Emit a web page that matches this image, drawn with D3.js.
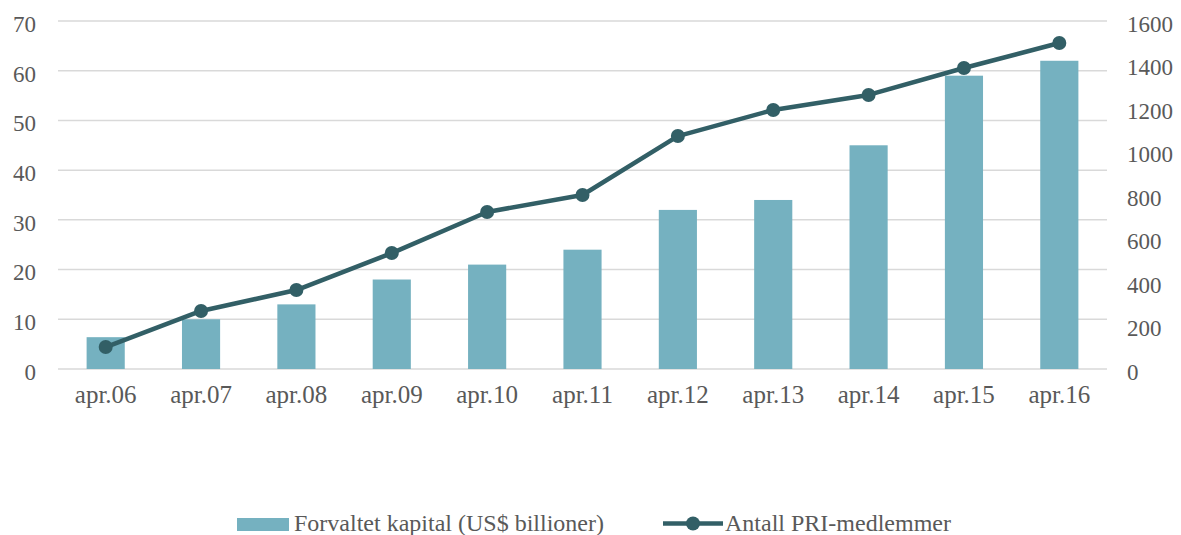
<!DOCTYPE html>
<html><head><meta charset="utf-8">
<script src="https://cdn.jsdelivr.net/npm/d3@7"></script>
<style>
body{margin:0;background:#fff;}
svg text{font-family:"Liberation Serif","DejaVu Serif",serif !important;fill:#595959;font-variant-numeric:oldstyle-nums;}
</style></head>
<body><svg id="c" width="1181" height="535"></svg>
<script>
const categories = ["apr.06","apr.07","apr.08","apr.09","apr.10","apr.11","apr.12","apr.13","apr.14","apr.15","apr.16"];
const kapital = [6.4, 10, 13, 18, 21, 24, 32, 34, 45, 59, 62];
const medlemmer = [101, 267, 363, 533, 722, 800, 1071, 1191, 1260, 1384, 1499];
const leftTicks = [0,10,20,30,40,50,60,70];
const rightTicks = [0,200,400,600,800,1000,1200,1400,1600];
const seriesNames = ["Forvaltet kapital (US$ billioner)", "Antall PRI-medlemmer"];

const FONT = '"Liberation Serif","DejaVu Serif",serif';
const svg = d3.select("#c");
const L = 58, R = 1107, T = 21, B = 369;
const x = d3.scaleBand().domain(categories).range([L, R]).paddingInner(0).paddingOuter(0);
const yL = d3.scaleLinear().domain([0,70]).range([B,T]);
const yR = d3.scaleLinear().domain([0,1600]).range([B,T]);
const barW = x.bandwidth()*0.4;

// gridlines
svg.append("g").selectAll("line").data(leftTicks).join("line")
  .attr("x1", L).attr("x2", R).attr("y1", d=>yL(d)).attr("y2", d=>yL(d))
  .attr("stroke", "#d9d9d9").attr("stroke-width", 1.5);

// left axis labels
const axL = svg.append("g").attr("transform", `translate(${L},0)`)
  .call(d3.axisLeft(yL).tickValues(leftTicks).tickSize(0).tickPadding(22))
  .attr("font-family", FONT).attr("font-size", 23);
axL.select(".domain").remove();
axL.selectAll("text").attr("fill", "#595959").attr("dy", "0.45em");

// right axis labels
const axR = svg.append("g").attr("transform", `translate(${R},0)`)
  .call(d3.axisRight(yR).tickValues(rightTicks).tickSize(0).tickPadding(20).tickFormat(d3.format("d")))
  .attr("font-family", FONT).attr("font-size", 23);
axR.select(".domain").remove();
axR.selectAll("text").attr("fill", "#595959").attr("dy", "0.45em");

// x axis labels
const axX = svg.append("g").attr("transform", `translate(0,${B})`)
  .call(d3.axisBottom(x).tickSize(0))
  .attr("font-family", FONT).attr("font-size", 25);
axX.select(".domain").remove();
axX.selectAll("text").attr("fill", "#595959").attr("y", 34).attr("dy", "0");

// bars
svg.append("g").selectAll("rect").data(categories).join("rect")
  .attr("x", (d)=>x(d)+x.bandwidth()/2-barW/2)
  .attr("width", barW)
  .attr("y", (d,i)=>yL(kapital[i]))
  .attr("height", (d,i)=>B-yL(kapital[i]))
  .attr("fill", "#75b1c0");

// line
const line = d3.line().x((d,i)=>x(categories[i])+x.bandwidth()/2).y(d=>yR(d));
svg.append("path").datum(medlemmer).attr("d", line)
  .attr("fill","none").attr("stroke","#325f66").attr("stroke-width",4.5).attr("stroke-linejoin","round");
svg.append("g").selectAll("circle").data(medlemmer).join("circle")
  .attr("cx", (d,i)=>x(categories[i])+x.bandwidth()/2).attr("cy", d=>yR(d))
  .attr("r", 7).attr("fill","#325f66");

// legend
const lg = svg.append("g").attr("font-family", FONT);
lg.append("rect").attr("x",237).attr("y",518).attr("width",52).attr("height",13).attr("fill","#75b1c0");
lg.append("text").attr("x",294).attr("y",531).attr("font-size",24).text(seriesNames[0]);
lg.append("line").attr("x1",663).attr("x2",723).attr("y1",523.5).attr("y2",523.5).attr("stroke","#325f66").attr("stroke-width",4.5);
lg.append("circle").attr("cx",693).attr("cy",523.5).attr("r",7).attr("fill","#325f66");
lg.append("text").attr("x",725).attr("y",531).attr("font-size",24).text(seriesNames[1]);
</script></body></html>
